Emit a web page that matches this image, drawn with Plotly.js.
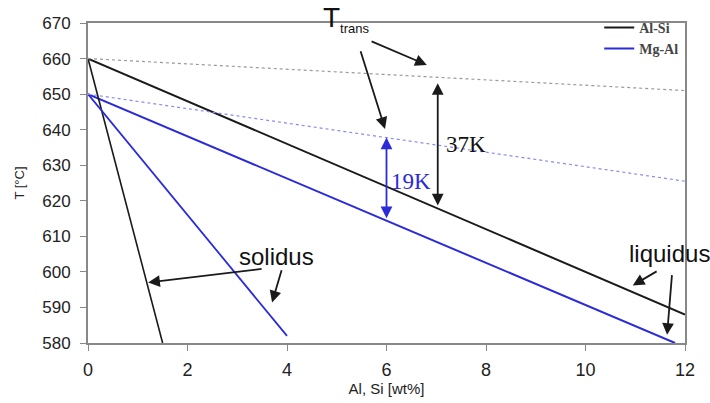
<!DOCTYPE html>
<html><head><meta charset="utf-8">
<script src="https://cdn.plot.ly/plotly-3.0.1.min.js"></script>
<style>html,body{margin:0;padding:0;background:#fff}#c{width:710px;height:403px}</style>
</head><body><div id="c"></div>
<script>
// Data
const alSiLiquidusX = [0, 12];
const alSiLiquidusT = [660, 588];
const alSiSolidusX = [0, 1.5];
const alSiSolidusT = [660, 580];
const alSiTransX = [0, 12];
const alSiTransT = [660, 651];
const mgAlLiquidusX = [0, 11.8];
const mgAlLiquidusT = [650, 580];
const mgAlSolidusX = [0, 4];
const mgAlSolidusT = [650, 582];
const mgAlTransX = [0, 12];
const mgAlTransT = [650, 625.5];
const xTicks = [0, 2, 4, 6, 8, 10, 12];
const yTicks = [580, 590, 600, 610, 620, 630, 640, 650, 660, 670];

const BLACK = '#1a1a1a', BLUE = '#2b2bd8';
const SANS = 'Liberation Sans, Arial', SERIF = 'Liberation Serif, Times New Roman';
const traces = [
  {x: alSiLiquidusX, y: alSiLiquidusT, name: 'Al-Si', mode: 'lines', line: {color: BLACK, width: 2}},
  {x: mgAlLiquidusX, y: mgAlLiquidusT, name: 'Mg-Al', mode: 'lines', line: {color: BLUE, width: 2}},
  {x: alSiSolidusX, y: alSiSolidusT, mode: 'lines', line: {color: BLACK, width: 1.6}, showlegend: false},
  {x: mgAlSolidusX, y: mgAlSolidusT, mode: 'lines', line: {color: BLUE, width: 1.8}, showlegend: false},
  {x: alSiTransX, y: alSiTransT, mode: 'lines', line: {color: '#9a9a9a', width: 1.2, dash: 'dot'}, showlegend: false},
  {x: mgAlTransX, y: mgAlTransT, mode: 'lines', line: {color: '#8a8af0', width: 1.2, dash: 'dot'}, showlegend: false}
];

function arrow(x, y, ax, ay, color, both) {
  return {x: x, y: y, ax: ax, ay: ay, xref: 'x', yref: 'y', axref: 'x', ayref: 'y',
    text: '', showarrow: true, arrowhead: 2, arrowsize: 1.3, arrowwidth: 1.8,
    arrowcolor: color, arrowside: both ? 'end+start' : 'end', standoff: 0, startstandoff: 0};
}

const annotations = [
  {x: 5.2, y: 1.013, xref: 'x', yref: 'paper', yanchor: 'middle', text: 'T<sub><span style="font-size:13px">trans</span></sub>', showarrow: false,
   font: {family: SANS, size: 28, color: '#111'}},
  arrow(6.81, 658.2, 5.67, 665, BLACK),
  arrow(5.97, 640.2, 5.47, 662.5, BLACK),
  arrow(7.03, 618.7, 7.03, 653.5, BLACK, true),
  arrow(6.0, 615.1, 6.0, 638.2, BLUE, true),
  {x: 7.6, y: 635.9, xref: 'x', yref: 'y', text: '37K', showarrow: false,
   font: {family: SERIF, size: 23, color: '#111'}},
  {x: 6.49, y: 625.4, xref: 'x', yref: 'y', text: '19K', showarrow: false,
   font: {family: SERIF, size: 23, color: BLUE}},
  {x: 3.78, y: 604.3, xref: 'x', yref: 'y', text: 'solidus', showarrow: false,
   font: {family: SANS, size: 24, color: '#111'}},
  arrow(1.21, 597, 3.52, 600.9, BLACK),
  arrow(3.7, 591.4, 3.9, 600.9, BLACK),
  {x: 11.68, y: 605.3, xref: 'x', yref: 'y', text: 'liquidus', showarrow: false,
   font: {family: SANS, size: 24, color: '#111'}},
  arrow(10.95, 596.2, 11.46, 600.4, BLACK),
  arrow(11.64, 582.3, 11.74, 599.5, BLACK)
];

const layout = {
  width: 710, height: 403,
  margin: {l: 88, r: 25, t: 20, b: 60},
  paper_bgcolor: '#fff', plot_bgcolor: '#fff',
  showlegend: true,
  legend: {x: 0.997, y: 1.035, xanchor: 'right', yanchor: 'top', bgcolor: 'rgba(0,0,0,0)',
    font: {family: SERIF, size: 14, weight: 'bold'}, tracegroupgap: 0, itemwidth: 30},
  xaxis: {range: [0, 12], tickvals: xTicks, ticktext: xTicks.map(String), showgrid: false, zeroline: false,
    showline: true, linecolor: '#888', linewidth: 2, mirror: true, ticks: 'outside', ticklen: 6, tickcolor: '#888',
    ticklabelstandoff: 3,
    tickfont: {family: SANS, size: 18, color: '#222'},
    title: {text: 'Al, Si [wt%]', font: {family: SANS, size: 15, color: '#222'}, standoff: 0}},
  yaxis: {range: [580, 670], tickvals: yTicks, ticktext: yTicks.map(String), showgrid: false, zeroline: false,
    showline: true, linecolor: '#888', linewidth: 2, mirror: true, ticks: 'outside', ticklen: 6, tickcolor: '#888',
    ticklabelstandoff: 6,
    tickfont: {family: SANS, size: 17, color: '#222'},
    title: {text: 'T [°C]', font: {family: SANS, size: 13, color: '#222'}, standoff: 15}},
  annotations: annotations
};
Plotly.newPlot('c', traces, layout, {staticPlot: true, displayModeBar: false});
</script></body></html>
